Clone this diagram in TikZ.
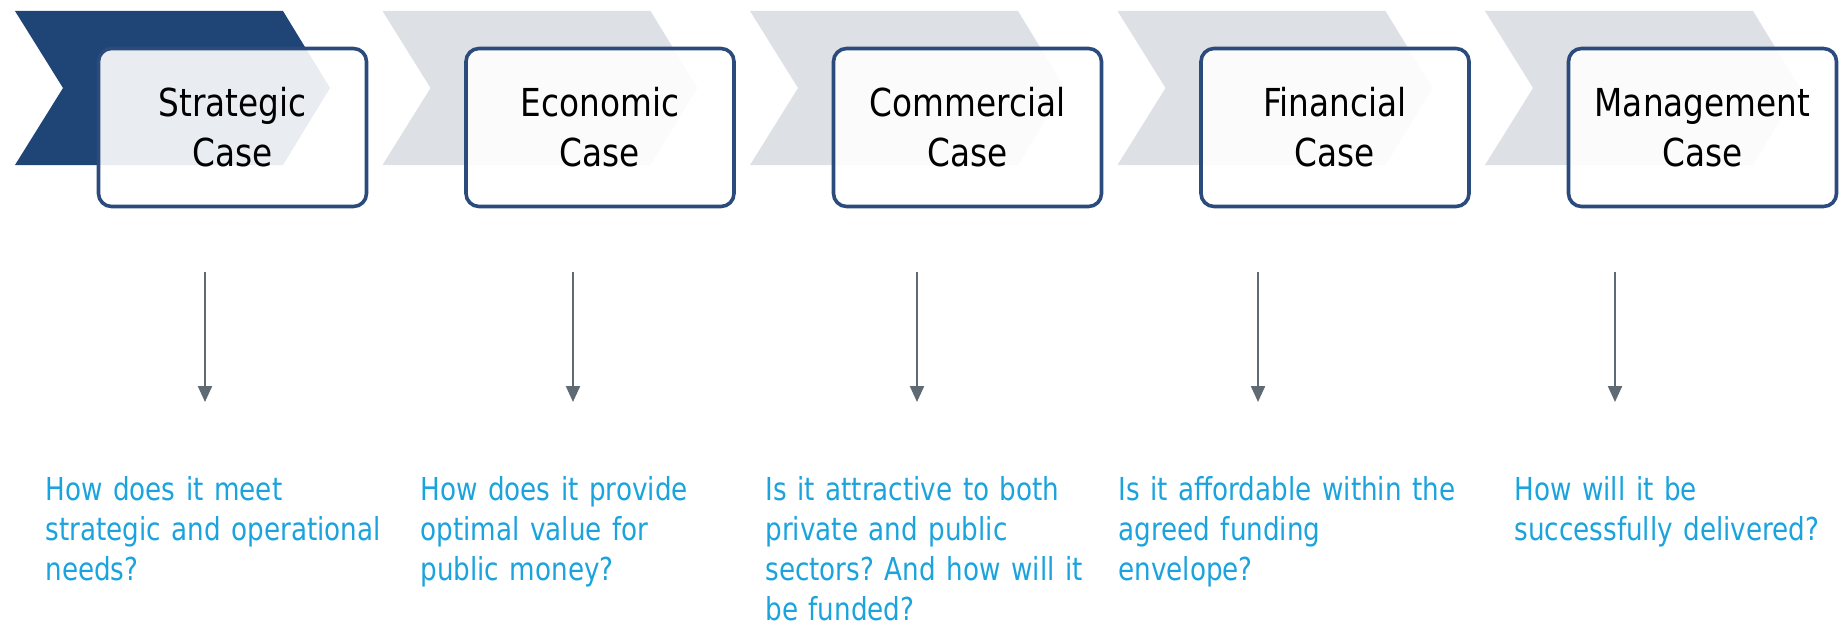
\documentclass[tikz,border=0pt]{standalone}
\usepackage{fontspec}
\setmainfont{DejaVu Sans}[FakeStretch=0.85]
\newfontfamily\askfont{DejaVu Sans}[FakeStretch=0.83]
\frenchspacing
\usetikzlibrary{arrows.meta}
\definecolor{casenavy}{HTML}{1F4476}
\definecolor{caseedge}{HTML}{2B4B7D}
\definecolor{casegray}{HTML}{DDE0E4}
\definecolor{askblue}{HTML}{1BA3DD}
\definecolor{arrowgray}{HTML}{5E6A74}
\tikzstyle{chevron}=[fill=casegray]
\tikzstyle{casebox}=[draw=caseedge, line width=1.8pt, rounded corners=6.5pt,
  fill=white, fill opacity=0.9, text opacity=1, minimum width=134pt,
  minimum height=79pt, align=center, font=\fontsize{19.25pt}{25pt}\selectfont]
\tikzstyle{question}=[anchor=base west, align=left, text width=190pt, text=askblue,
  inner sep=0pt, font=\askfont\fontsize{15.8pt}{20pt}\selectfont]
\tikzstyle{down}=[arrowgray, line width=1.1pt, -{Triangle[width=7pt,length=8pt]}]

\begin{document}
\begin{tikzpicture}[x=0.5pt, y=-0.5pt]
        \useasboundingbox (0,0) rectangle (1841,626);
        % chevrons behind the boxes
        \fill[casenavy] (15,11) -- (283,11) -- (330,88) -- (283,165) -- (15,165) -- (63,88) -- cycle;
        \fill[chevron, shift={(367.5,0)}] (15,11) -- (283,11) -- (330,88) -- (283,165) -- (15,165) -- (63,88) -- cycle;
        \fill[chevron, shift={(735,0)}] (15,11) -- (283,11) -- (330,88) -- (283,165) -- (15,165) -- (63,88) -- cycle;
        \fill[chevron, shift={(1102.5,0)}] (15,11) -- (283,11) -- (330,88) -- (283,165) -- (15,165) -- (63,88) -- cycle;
        \fill[chevron, shift={(1470,0)}] (15,11) -- (283,11) -- (330,88) -- (283,165) -- (15,165) -- (63,88) -- cycle;
        % the five cases
        \node[casebox] (strategic) at (232.5,127.5) {Strategic\\Case};
        \node[casebox] (economic) at (600,127.5) {Economic\\Case};
        \node[casebox] (commercial) at (967.5,127.5) {Commercial\\Case};
        \node[casebox] (financial) at (1335,127.5) {Financial\\Case};
        \node[casebox] (management) at (1702.5,127.5) {Management\\Case};
        % arrows down to the questions
        \coordinate (sTop) at (205,272);  \coordinate (sBot) at (205,402);
        \coordinate (eTop) at (573,272);  \coordinate (eBot) at (573,402);
        \coordinate (cTop) at (917,272);  \coordinate (cBot) at (917,402);
        \coordinate (fTop) at (1258,272); \coordinate (fBot) at (1258,402);
        \coordinate (mTop) at (1615,272); \coordinate (mBot) at (1615,402);
        \draw[down] (sTop) -- (sBot);
        \draw[down] (eTop) -- (eBot);
        \draw[down] (cTop) -- (cBot);
        \draw[down] (fTop) -- (fBot);
        \draw[down] (mTop) -- (mBot);
        % questions
        \node[question] (sAsk) at (45,500) {How does it meet\\strategic and operational\\needs?};
        \node[question] (eAsk) at (420,500) {How does it provide\\optimal value for\\public money?};
        \node[question] (cAsk) at (765,500) {Is it attractive to both\\private and public\\sectors? And how will it\\be funded?};
        \node[question] (fAsk) at (1118,500) {Is it affordable within the\\agreed funding\\envelope?};
        \node[question] (mAsk) at (1514,500) {How will it be\\successfully delivered?};
\end{tikzpicture}
\end{document}
